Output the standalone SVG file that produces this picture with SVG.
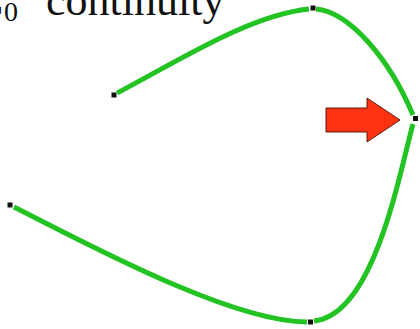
<svg xmlns="http://www.w3.org/2000/svg" width="420" height="329" viewBox="0 0 420 329">
<style>
.curve{fill:none;stroke:#22c322;stroke-width:5;stroke-linecap:butt}
.pt{fill:#111111}
.t{font-family:"Liberation Serif","Times New Roman",serif;fill:#111111}
</style>
<rect width="420" height="329" fill="#ffffff"/>
<g id="title">
<text class="t" y="15" font-size="44"><tspan x="-26">C</tspan><tspan x="4" y="21" font-size="28">0</tspan><tspan x="35" y="15"> continuity</tspan></text>
</g>
<g id="connectors">
<path class="curve" d="M117,93 C180,60 250,15 309,9"/>
<path class="curve" d="M316,9 C350,12 390,60 413,115"/>
<path class="curve" d="M413,124 C400,170 375,315 314,321"/>
<path class="curve" d="M307,322 C230,322 80,240 14,207"/>
</g>
<g id="points">
<rect id="p1" class="pt" x="111.5" y="92.5" width="5" height="5"/>
<rect id="p2" class="pt" x="310.5" y="5.5" width="5" height="5"/>
<rect id="p3" class="pt" x="413" y="116" width="5" height="5"/>
<rect id="p4" class="pt" x="308" y="319.5" width="5" height="5"/>
<rect id="p5" class="pt" x="7.5" y="202.5" width="5" height="5"/>
</g>
<g id="arrow">
<polygon points="326,108 367,108 367,98 400,120 367,142 367,132 326,132" fill="#ff3311" stroke="#5a1a0a" stroke-width="1"/>
</g>
</svg>
